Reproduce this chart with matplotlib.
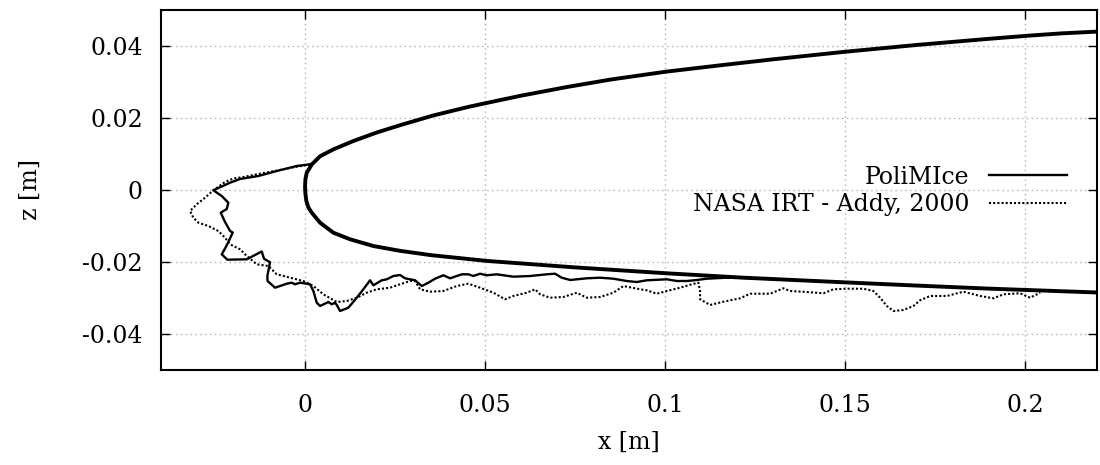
import numpy as np
import matplotlib
matplotlib.use("Agg")
import matplotlib.pyplot as plt
import matplotlib.ticker as tick

plt.rcParams['font.family'] = ['DejaVu Serif']
plt.rcParams['font.size'] = 17

# clean airfoil, upper trailing side -> leading edge -> lower side
airfoil_x = [0.22, 0.21, 0.2014, 0.19, 0.17, 0.15, 0.13, 0.115, 0.1005, 0.085,
             0.0727, 0.06, 0.0505, 0.045, 0.0356, 0.0264, 0.02, 0.0134, 0.0079,
             0.0042, 0.0019, 0.00047, 0.0001, 0.0, 0.0001, 0.00035, 0.0009,
             0.00186, 0.00417, 0.00786, 0.0125, 0.01897, 0.02639, 0.035, 0.0505,
             0.075, 0.10047, 0.12083, 0.14, 0.16806, 0.19, 0.22]
airfoil_z = [0.0440, 0.0435, 0.0429, 0.0420, 0.0403, 0.0384, 0.0363, 0.0346, 0.0329, 0.0307,
             0.0286, 0.0262, 0.0242, 0.0230, 0.0207, 0.0180, 0.0160, 0.0136, 0.0113,
             0.0094, 0.00714, 0.0048, 0.0030, 0.0010, -0.0010, -0.0030, -0.0048,
             -0.0063, -0.00908, -0.01186, -0.01369, -0.01556, -0.0169, -0.0181, -0.0197,
             -0.0215, -0.02314, -0.02431, -0.0252, -0.02647, -0.0274, -0.02847]

# PoliMIce ice shape
poli_x = [0.00139, -0.00231, -0.00786, -0.01297, -0.01806, -0.02083, -0.02547,
          -0.02314, -0.02131, -0.02175, -0.02342, -0.02222, -0.02083, -0.02008,
          -0.02131, -0.02222, -0.02314, -0.02158, -0.01619, -0.01203, -0.01139,
          -0.00972, -0.01047, -0.01042, -0.00833, -0.00508, -0.00369, -0.00278,
          -0.00139, 0.00139, 0.00231, 0.00325, 0.00417, 0.00647, 0.00742, 0.00833,
          0.00881, 0.00972, 0.01203, 0.01436, 0.01619, 0.01806, 0.01897, 0.02131,
          0.02269, 0.02453, 0.02639, 0.02778, 0.03056, 0.03242, 0.03425, 0.03611,
          0.03842, 0.04028, 0.04353, 0.04536, 0.04675, 0.04861, 0.05047, 0.05325,
          0.05786, 0.0625, 0.06714, 0.06944, 0.07131, 0.07361, 0.07825, 0.08194,
          0.08564, 0.08936, 0.09214, 0.09492, 0.10047, 0.10325, 0.10603, 0.10881,
          0.11158, 0.11714, 0.12083, 0.1375, 0.15]
poli_z = [0.00714, 0.00667, 0.00528, 0.00389, 0.00306, 0.00203, -0.00008,
          -0.00167, -0.00353, -0.00528, -0.00631, -0.00889, -0.01139, -0.01181,
          -0.01444, -0.01625, -0.01786, -0.01936, -0.01925, -0.01708, -0.01911,
          -0.02008, -0.02389, -0.02528, -0.02714, -0.02603, -0.02575, -0.02619,
          -0.02575, -0.02619, -0.02806, -0.03131, -0.03222, -0.03111, -0.03175, -0.03131,
          -0.03194, -0.03361, -0.03269, -0.02992, -0.02758, -0.02508, -0.02647, -0.02508,
          -0.02481, -0.02389, -0.02361, -0.02453, -0.02508, -0.02667, -0.02575, -0.02464,
          -0.02369, -0.02453, -0.02342, -0.02342, -0.02389, -0.02325, -0.02369, -0.02342,
          -0.02408, -0.02389, -0.02342, -0.02325, -0.02436, -0.025, -0.02453, -0.02436,
          -0.02464, -0.02528, -0.02556, -0.02508, -0.02481, -0.02528, -0.02528, -0.025,
          -0.02464, -0.02436, -0.02439, -0.02508, -0.02564]

# NASA IRT experimental ice shape (Addy, 2000)
nasa_x = [0.00139, -0.00231, -0.00694, -0.0125, -0.01714, -0.01992, -0.02222, -0.02547,
          -0.02778, -0.03008, -0.03194, -0.03103, -0.02964, -0.02686, -0.02408, -0.02222,
          -0.02083, -0.01806, -0.01619, -0.01342, -0.01019, -0.00786, -0.00417, -0.00047,
          0.00231, 0.00508, 0.00881, 0.01158, 0.01436, 0.01714, 0.01992, 0.02361,
          0.02639, 0.02917, 0.03056, 0.03194, 0.03472, 0.03842, 0.04214, 0.04536,
          0.04861, 0.05231, 0.05556, 0.05786, 0.06158, 0.06389, 0.06528, 0.06806,
          0.07175, 0.07547, 0.07825, 0.08194, 0.08564, 0.08842, 0.09306, 0.09492,
          0.09769, 0.10047, 0.10417, 0.10742, 0.10925, 0.10972, 0.10972, 0.1125,
          0.11619, 0.12083, 0.12361, 0.12917, 0.13286, 0.13472, 0.13936, 0.14397,
          0.14675, 0.15047, 0.15508, 0.15786, 0.15972, 0.16158, 0.16342, 0.16619,
          0.16897, 0.17083, 0.17361, 0.17825, 0.18286, 0.1875, 0.19119, 0.19397,
          0.19861, 0.20139, 0.20417]
nasa_z = [0.00708, 0.00647, 0.00556, 0.00453, 0.00361, 0.00319, 0.00222, -0.00008,
          -0.00214, -0.00397, -0.00583, -0.00769, -0.00908, -0.01, -0.01139, -0.01325,
          -0.01508, -0.01647, -0.01833, -0.02064, -0.02111, -0.02342, -0.02436, -0.02528,
          -0.02667, -0.02897, -0.03111, -0.03083, -0.02992, -0.02853, -0.02758, -0.02714,
          -0.02619, -0.02528, -0.02528, -0.02758, -0.02825, -0.02806, -0.02667, -0.02603,
          -0.02714, -0.02853, -0.03036, -0.02944, -0.02853, -0.02758, -0.02897, -0.02992,
          -0.02972, -0.02853, -0.02992, -0.02972, -0.02853, -0.02667, -0.02758, -0.02786,
          -0.02881, -0.02806, -0.02714, -0.02619, -0.02575, -0.02806, -0.03036, -0.03194,
          -0.03103, -0.03008, -0.02881, -0.02881, -0.02731, -0.02806, -0.02833, -0.02869,
          -0.02758, -0.02742, -0.02742, -0.02806, -0.02992, -0.03222, -0.03361, -0.03333,
          -0.03222, -0.03064, -0.02944, -0.02944, -0.02825, -0.02944, -0.03008, -0.02897,
          -0.02869, -0.02992, -0.02853]

x_ticks = [0, 0.05, 0.1, 0.15, 0.2]
z_ticks = [-0.04, -0.02, 0, 0.02, 0.04]

fig = plt.figure(figsize=(11, 4.65), dpi=100)
ax = fig.add_axes([0.1464, 0.2043, 0.851, 0.7742])

ax.plot(airfoil_x, airfoil_z, color='black', lw=2.8, solid_joinstyle='round')
ax.plot(poli_x, poli_z, color='black', lw=1.7, label='PoliMIce')
ax.plot(nasa_x, nasa_z, color='black', lw=1.5, ls=(0, (1, 1)),
        label='NASA IRT - Addy, 2000')

ax.set_xlim(-0.04, 0.22)
ax.set_ylim(-0.05, 0.05)
ax.set_xticks(x_ticks)
ax.set_yticks(z_ticks)
ax.xaxis.set_major_formatter(tick.FuncFormatter(lambda v, p: f'{v:g}'))
ax.yaxis.set_major_formatter(tick.FuncFormatter(lambda v, p: f'{v:g}'))
ax.tick_params(direction='in', length=6.5, width=1, top=True, right=True)
ax.tick_params(axis='x', pad=17)
ax.tick_params(axis='y', pad=13)
ax.grid(True, color='#b0b0b0', ls=(0, (1, 2.5)), lw=1)
for s in ax.spines.values():
    s.set_linewidth(1.5)

ax.set_xlabel('x [m]', labelpad=10)
ax.set_ylabel('z [m]', labelpad=29)

ax.legend(loc='center right', bbox_to_anchor=(0.968, 0.497), frameon=False,
          markerfirst=False, handlelength=3.3, handletextpad=0.85,
          borderpad=0, borderaxespad=0, labelspacing=0.2)

fig.savefig('out.png', dpi=100)
